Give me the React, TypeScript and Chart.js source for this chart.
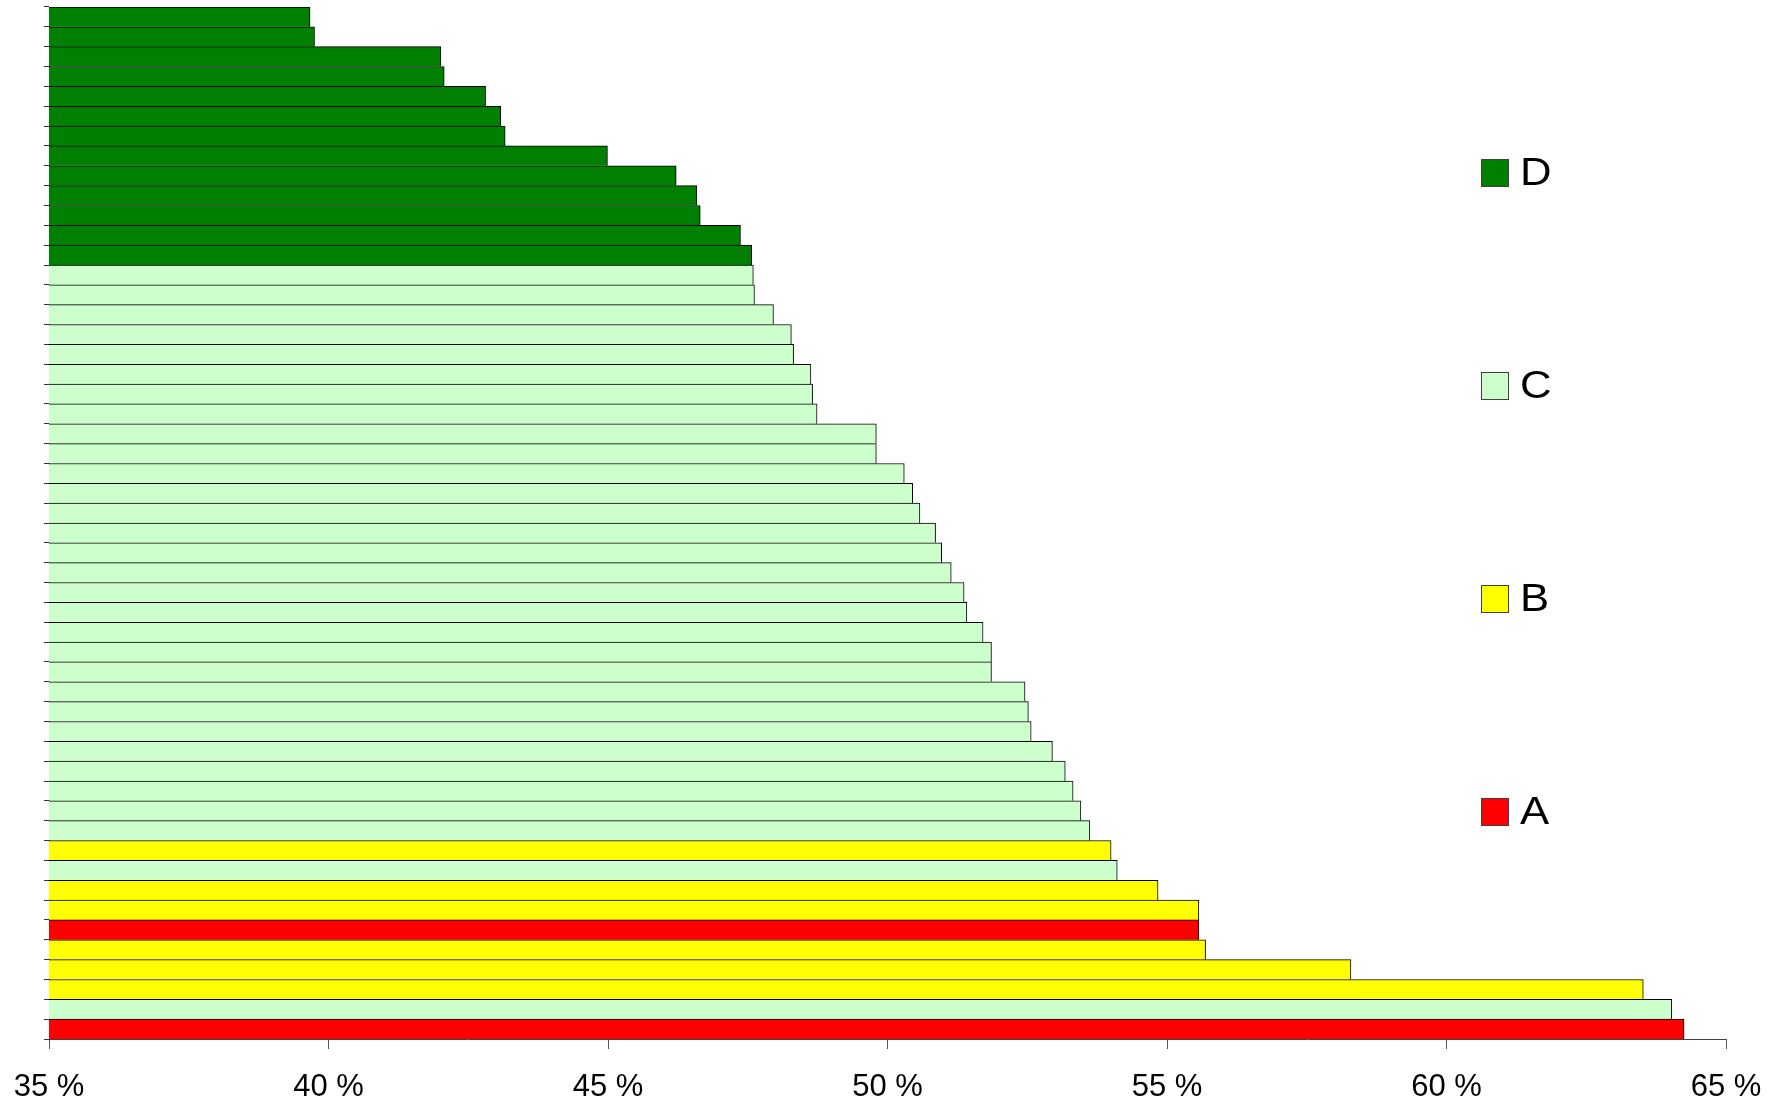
import React, { useEffect, useRef } from 'react';
import { Chart, registerables } from 'chart.js';

Chart.register(...registerables);

// Categories (ranked entries, top to bottom)
const categories = [
  '1', '2', '3', '4', '5', '6', '7', '8', '9', '10',
  '11', '12', '13', '14', '15', '16', '17', '18', '19', '20',
  '21', '22', '23', '24', '25', '26', '27', '28', '29', '30',
  '31', '32', '33', '34', '35', '36', '37', '38', '39', '40',
  '41', '42', '43', '44', '45', '46', '47', '48', '49', '50',
  '51', '52',
];

// Class of each entry
const groups = [
  'D', 'D', 'D', 'D', 'D', 'D', 'D', 'D', 'D', 'D',
  'D', 'D', 'D', 'C', 'C', 'C', 'C', 'C', 'C', 'C',
  'C', 'C', 'C', 'C', 'C', 'C', 'C', 'C', 'C', 'C',
  'C', 'C', 'C', 'C', 'C', 'C', 'C', 'C', 'C', 'C',
  'C', 'C', 'B', 'C', 'B', 'B', 'A', 'B', 'B', 'B',
  'C', 'A',
];

// Values in percent
const values = [
  39.67, 39.75, 42.01, 42.07, 42.81, 43.08, 43.16, 44.99, 46.22, 46.59,
  46.65, 47.37, 47.57, 47.60, 47.62, 47.96, 48.28, 48.32, 48.63, 48.66,
  48.74, 49.80, 49.80, 50.30, 50.45, 50.58, 50.86, 50.97, 51.14, 51.37,
  51.42, 51.71, 51.86, 51.86, 52.46, 52.52, 52.57, 52.95, 53.18, 53.32,
  53.46, 53.62, 54.00, 54.11, 54.84, 55.57, 55.57, 55.69, 58.29, 63.52,
  64.03, 64.25,
];

const legendLabels = ['D', 'C', 'B', 'A'];
const xTickValues = [35, 40, 45, 50, 55, 60, 65];

const groupColors: Record<string, string> = {
  A: '#FF0000',
  B: '#FFFF00',
  C: '#CCFFCC',
  D: '#008000',
};

const FONT = '"Liberation Sans", Arial, Helvetica, sans-serif';

const sideLegend = {
  id: 'sideLegend',
  afterDraw(chart: any) {
    const { ctx, chartArea } = chart;
    const h = chartArea.bottom - chartArea.top;
    ctx.save();
    legendLabels.forEach((lab, i) => {
      const cy = chartArea.top + h * (0.1606 + i * 0.2064);
      const bx = 1481;
      ctx.fillStyle = groupColors[lab];
      ctx.fillRect(bx, Math.round(cy - 14), 28, 28);
      ctx.strokeStyle = '#404040';
      ctx.lineWidth = 1;
      ctx.strokeRect(bx + 0.5, Math.round(cy - 14) + 0.5, 27, 27);
      ctx.save();
      ctx.translate(bx + 39, cy + 12.5);
      ctx.scale(1.15, 1);
      ctx.font = `38px ${FONT}`;
      ctx.fillStyle = '#000000';
      ctx.textAlign = 'left';
      ctx.textBaseline = 'alphabetic';
      ctx.fillText(lab, 0, 0);
      ctx.restore();
    });
    ctx.restore();
  },
};

export default function App() {
  const canvasRef = useRef<HTMLCanvasElement | null>(null);

  useEffect(() => {
    document.body.style.margin = '0';
    const canvas = canvasRef.current;
    if (!canvas) return;
    const chart = new Chart(canvas, {
      type: 'bar',
      data: {
        labels: categories,
        datasets: [
          {
            data: values,
            backgroundColor: groups.map((g) => groupColors[g]),
            borderColor: '#000000',
            borderWidth: { top: 1, right: 1, bottom: 0, left: 0 },
            borderSkipped: false,
            barPercentage: 1,
            categoryPercentage: 1,
          },
        ],
      },
      options: {
        indexAxis: 'y',
        responsive: false,
        animation: false,
        events: [],
        layout: { autoPadding: false, padding: { left: 44, right: 55, top: 7, bottom: 0 } },
        plugins: {
          legend: { display: false },
          tooltip: { enabled: false },
          title: { display: false },
        },
        scales: {
          x: {
            type: 'linear',
            min: 35,
            max: 65,
            afterBuildTicks: (scale: any) => {
              scale.ticks = xTickValues.map((v) => ({ value: v }));
            },
            afterFit: (scale: any) => {
              scale.height = 64;
              scale.paddingLeft = 0;
              scale.paddingRight = 0;
            },
            grid: {
              drawOnChartArea: false,
              drawTicks: true,
              tickLength: 10,
              color: '#555555',
            },
            border: { display: true, color: '#404040', width: 1 },
            ticks: {
              padding: 20,
              maxRotation: 0,
              autoSkip: false,
              color: '#000000',
              font: { family: FONT, size: 31 },
              callback: (v: any) => `${v} %`,
            },
          },
          y: {
            type: 'category',
            afterFit: (scale: any) => {
              scale.width = 5;
              scale.paddingTop = 0;
              scale.paddingBottom = 0;
            },
            grid: {
              drawOnChartArea: false,
              drawTicks: true,
              tickLength: 5,
              color: '#333333',
            },
            border: { display: true, color: '#333333', width: 1 },
            ticks: { display: false },
          },
        },
      },
      plugins: [sideLegend],
    });
    return () => chart.destroy();
  }, []);

  return (
    <div style={{ width: 1781, height: 1103, background: '#ffffff' }}>
      <canvas ref={canvasRef} width={1781} height={1103} style={{ display: 'block' }} />
    </div>
  );
}
